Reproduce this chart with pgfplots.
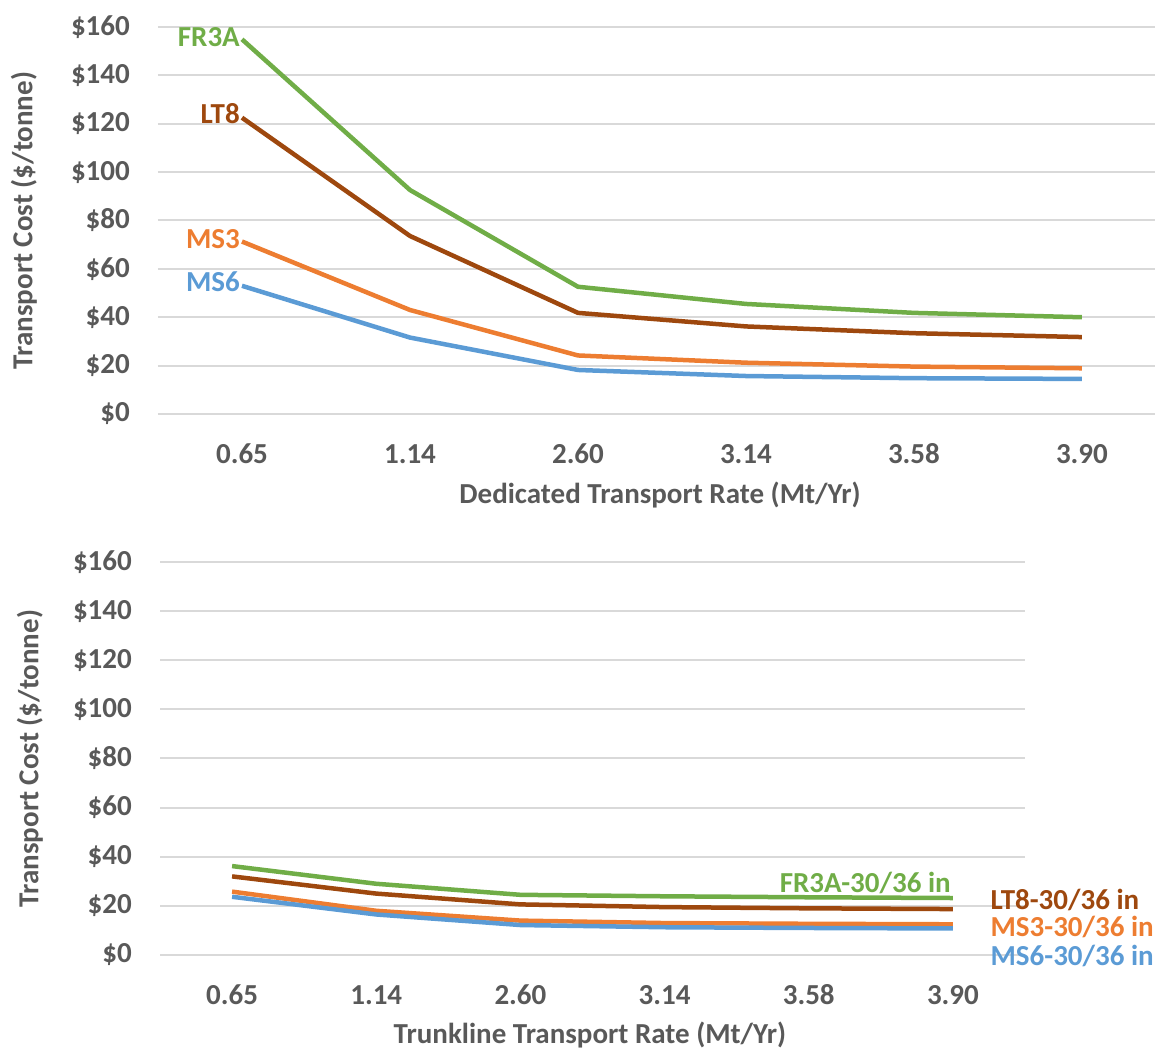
\documentclass[border=0pt]{standalone}
\usepackage{fontspec}
\setmainfont{Carlito}
\usepackage{pgfplots}
\pgfplotsset{compat=1.18}
\definecolor{cgreen}{HTML}{70AD47}
\definecolor{cbrown}{HTML}{9E480E}
\definecolor{corange}{HTML}{ED7D31}
\definecolor{cblue}{HTML}{5B9BD5}
\definecolor{txtgray}{HTML}{595959}
\definecolor{gridgray}{HTML}{D9D9D9}
\newcommand{\bigf}{\fontsize{29}{34}\selectfont\bfseries}
\pgfplotsset{common/.style={
  scale only axis, xmin=-0.5, ymin=0, ymax=160,
  xtick={0,1,2,3,4,5}, xticklabels={0.65,1.14,2.60,3.14,3.58,3.90},
  ytick={0,20,...,160}, yticklabels={\$0,\$20,\$40,\$60,\$80,\$100,\$120,\$140,\$160},
  ymajorgrids, grid style={color=gridgray, line width=2pt},
  axis line style={draw=none}, major tick length=0pt,
  tick label style={font=\bigf, text=txtgray},
  xticklabel style={anchor=center, yshift=-40pt},
  yticklabel style={anchor=east, inner sep=0pt, xshift=-28pt},
  label style={font=\bigf, text=txtgray},
  clip=false,
  every axis plot/.append style={line width=4.5pt, line join=round, mark=none},
}}
\begin{document}
\begin{tikzpicture}[x=1pt,y=1pt]
\useasboundingbox (0,0) rectangle (1155,1051);
% Top chart
\begin{axis}[common, at={(158pt,637pt)}, anchor=south west, width=997pt, height=387pt, xmax=5.435,
  xlabel={Dedicated Transport Rate (Mt/Yr)}, ylabel={Transport Cost (\$/tonne)},
  xlabel style={at={(axis description cs:0.5035,-0.209)}, anchor=center},
  ylabel style={at={(axis description cs:-0.1345,0.5)}, anchor=center, rotate=0}]
\addplot[color=cgreen] coordinates {(0,154.9) (1,92.6) (2,52.6) (3,45.5) (4,41.8) (5,40.0)};
\addplot[color=cbrown] coordinates {(0,122.5) (1,73.6) (2,41.8) (3,36.2) (4,33.4) (5,31.8)};
\addplot[color=corange] coordinates {(0,71.3) (1,43.0) (2,24.2) (3,21.2) (4,19.6) (5,18.9)};
\addplot[color=cblue] coordinates {(0,53.0) (1,31.6) (2,18.2) (3,15.7) (4,14.8) (5,14.5)};
\node[anchor=east, inner sep=2pt, font=\bigf, text=cgreen] at (axis cs:0,156) {FR3A};
\node[anchor=east, inner sep=2pt, font=\bigf, text=cbrown] at (axis cs:0,124) {LT8};
\node[anchor=east, inner sep=2pt, font=\bigf, text=corange] at (axis cs:0,72.5) {MS3};
\node[anchor=east, inner sep=2pt, font=\bigf, text=cblue] at (axis cs:0,54.5) {MS6};
\end{axis}
% Bottom chart
\begin{axis}[common, at={(160pt,96pt)}, anchor=south west, width=865pt, height=393pt, xmax=5.5,
  xlabel={Trunkline Transport Rate (Mt/Yr)}, ylabel={Transport Cost (\$/tonne)},
  xlabel style={at={(axis description cs:0.497,-0.2036)}, anchor=center},
  ylabel style={at={(axis description cs:-0.1503,0.5)}, anchor=center, rotate=0}]
\addplot[color=cgreen] coordinates {(0,36.2) (1,29.0) (2,24.5) (3,23.9) (4,23.5) (5,23.2)};
\addplot[color=cbrown] coordinates {(0,32.0) (1,25.0) (2,20.6) (3,19.5) (4,19.0) (5,18.7)};
\addplot[color=corange] coordinates {(0,25.8) (1,18.0) (2,14.0) (3,13.0) (4,12.7) (5,12.5)};
\addplot[color=cblue] coordinates {(0,23.7) (1,16.5) (2,12.2) (3,11.3) (4,11.0) (5,10.8)};
\node[anchor=south east, inner sep=2pt, font=\bigf, text=cgreen] at (axis cs:5,24.2) {FR3A-30/36 in};
\node[anchor=west, inner sep=0pt, font=\bigf, text=cbrown] at (axis cs:5.26,22.6) {LT8-30/36 in};
\node[anchor=west, inner sep=0pt, font=\bigf, text=corange] at (axis cs:5.26,11.6) {MS3-30/36 in};
\node[anchor=west, inner sep=0pt, font=\bigf, text=cblue] at (axis cs:5.26,-0.6) {MS6-30/36 in};
\end{axis}
\end{tikzpicture}
\end{document}
